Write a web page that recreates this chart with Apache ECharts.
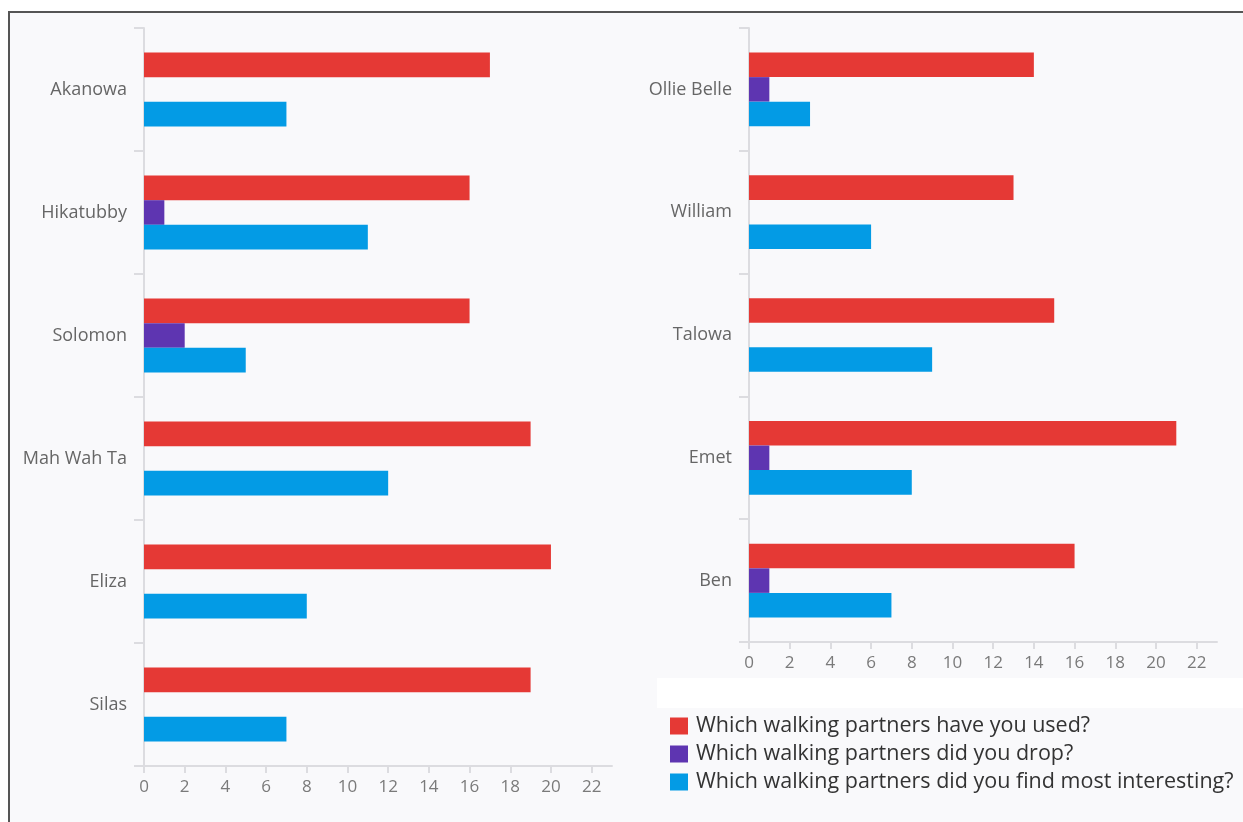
<!DOCTYPE html>
<html>
<head>
<meta charset="utf-8">
<script src="https://cdn.jsdelivr.net/npm/echarts@6/dist/echarts.min.js"></script>
<style>
  html, body { margin: 0; padding: 0; background: #ffffff; }
  #panel {
    position: absolute; left: 8px; top: 11px; right: 0; bottom: 0;
    background: #f9f9fb; border-left: 2px solid #555; border-top: 2px solid #555;
  }
  #legendBand { position: absolute; left: 657px; top: 678px; width: 586px; height: 30px; background: #ffffff; }
  #chart { position: absolute; left: 0; top: 0; width: 1243px; height: 822px; }
</style>
</head>
<body>
<div id="panel"></div>
<div id="legendBand"></div>
<div id="chart"></div>
<script>
// Walking partners, first panel
const leftNames = ['Akanowa', 'Hikatubby', 'Solomon', 'Mah Wah Ta', 'Eliza', 'Silas'];
const leftUsed = [17, 16, 16, 19, 20, 19];
const leftDropped = [0, 1, 2, 0, 0, 0];
const leftInteresting = [7, 11, 5, 12, 8, 7];

// Walking partners, second panel
const rightNames = ['Ollie Belle', 'William', 'Talowa', 'Emet', 'Ben'];
const rightUsed = [14, 13, 15, 21, 16];
const rightDropped = [1, 0, 0, 1, 1];
const rightInteresting = [3, 6, 9, 8, 7];

const seriesNames = [
  'Which walking partners have you used?',
  'Which walking partners did you drop?',
  'Which walking partners did you find most interesting?'
];
const seriesColors = ['#e53935', '#5e35b1', '#039be5'];

// Value axis tick labels
const xTicks = [0, 2, 4, 6, 8, 10, 12, 14, 16, 18, 20, 22];
const xMax = 23;

const axisGrey = '#dcdce0';
const fontFamily = "'Open Sans', 'Noto Sans', sans-serif";

function valueAxis(gridIndex) {
  return {
    type: 'value', gridIndex: gridIndex, min: 0, max: xMax,
    axisLine: { show: true, lineStyle: { color: axisGrey, width: 2 } },
    axisTick: { show: true, length: 7, customValues: xTicks, lineStyle: { color: axisGrey, width: 2 } },
    axisLabel: { customValues: xTicks, color: '#7a7a7a', fontSize: 17, margin: 13, fontFamily: fontFamily },
    splitLine: { show: false }
  };
}

function categoryAxis(gridIndex, names) {
  return {
    type: 'category', gridIndex: gridIndex, data: names, inverse: true,
    axisLine: { show: true, lineStyle: { color: axisGrey, width: 2 } },
    axisTick: { show: true, length: 10, lineStyle: { color: axisGrey, width: 2 } },
    axisLabel: { color: '#666', fontSize: 18, margin: 17, fontFamily: fontFamily }
  };
}

function barSeries(gridIndex, valueLists) {
  return valueLists.map(function (values, i) {
    return {
      name: seriesNames[i], type: 'bar',
      xAxisIndex: gridIndex, yAxisIndex: gridIndex,
      data: values,
      barCategoryGap: '40%', barGap: '0%',
      itemStyle: { color: seriesColors[i] },
      emphasis: { disabled: true }
    };
  });
}

const chart = echarts.init(document.getElementById('chart'), null, { renderer: 'canvas' });
chart.setOption({
  backgroundColor: 'transparent',
  animation: false,
  color: seriesColors,
  grid: [
    { left: 144, top: 28, width: 468, height: 738 },
    { left: 749, top: 28, width: 468, height: 614 }
  ],
  xAxis: [valueAxis(0), valueAxis(1)],
  yAxis: [categoryAxis(0, leftNames), categoryAxis(1, rightNames)],
  legend: {
    orient: 'vertical', left: 665, top: 710,
    itemWidth: 18, itemHeight: 17, itemGap: 6,
    icon: 'rect', selectedMode: false,
    textStyle: { fontSize: 21.5, color: '#333', fontFamily: fontFamily, padding: [0, 0, 0, 3] },
    data: seriesNames
  },
  series: barSeries(0, [leftUsed, leftDropped, leftInteresting])
    .concat(barSeries(1, [rightUsed, rightDropped, rightInteresting]))
});
</script>
</body>
</html>
